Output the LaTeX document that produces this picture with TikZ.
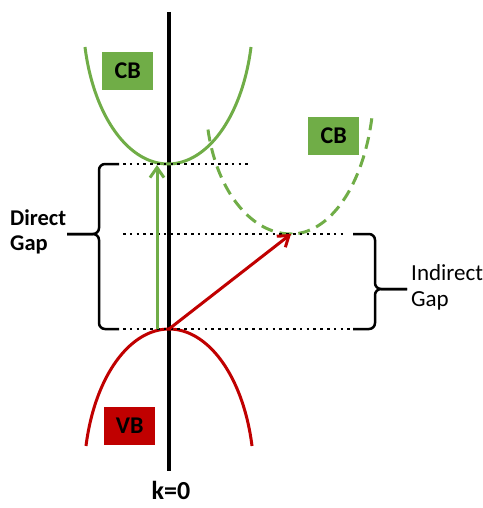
\documentclass[tikz,border=0pt]{standalone}
\usepackage{fontspec}
\setmainfont{Carlito}
\usetikzlibrary{arrows.meta}
\definecolor{cbgreen}{HTML}{70AD47}
\definecolor{vbred}{HTML}{C00000}
\begin{document}
\begin{tikzpicture}[x=1pt,y=-1pt,
  band/.style={line width=3pt},
  dots/.style={line width=2.5pt,dash pattern=on 2.6pt off 4.2pt},
  brace/.style={line width=2.5pt,rounded corners=6pt},
  lbl/.style={font=\fontsize{22.5}{25}\selectfont\bfseries,inner sep=0pt},
  boxlbl/.style={font=\fontsize{24}{25}\selectfont\bfseries,minimum width=51pt,minimum height=38pt,inner sep=0pt,anchor=north west}]
\useasboundingbox (0,0) rectangle (482,508);
% axis
\draw[line width=4.4pt] (169,12) -- (169,471);
% named points
\coordinate (cbbot) at (168,164);
\coordinate (vbtop) at (169,329);
\coordinate (cb2bot) at (291,234);
\coordinate (gstart) at (157,329);
\coordinate (gend) at (157,165);
% bands
\draw[band,cbgreen] plot[domain=-77.6:77.6,samples=81,smooth] ({168+85*sin(\x)},{164-149*(1-cos(\x))});
\draw[band,cbgreen,dash pattern=on 12pt off 7pt]
  plot[domain=-77.6:0,samples=41,smooth] ({291+85*sin(\x)},{234-133*(1-cos(\x))})
  -- plot[domain=0:77.4,samples=41,smooth] ({291+83*sin(\x)},{234-150*(1-cos(\x))});
\draw[band,vbred] plot[domain=-77.6:77.6,samples=81,smooth] ({169+85*sin(\x)},{329+149*(1-cos(\x))});
% dotted levels
\draw[dots] (123,164) -- (250,164);
\draw[dots] (123,234) -- (346,234);
\draw[dots] (123,329) -- (357,329);
% transitions
\draw[band,cbgreen,-{Straight Barb[length=10pt,width=14pt]}] (gstart) -- (gend);
\draw[band,vbred,-{Straight Barb[length=10pt,width=14pt]}] (vbtop) -- (cb2bot);
% braces
\draw[brace] (119,164) -- (99,164) -- (99,234) -- (67,234);
\draw[brace] (119,329) -- (99,329) -- (99,234) -- (67,234);
\draw[brace] (353,234) -- (375,234) -- (375,289) -- (407,289);
\draw[brace] (353,329) -- (375,329) -- (375,289) -- (407,289);
% labels
\node[boxlbl,fill=cbgreen] (cb1) at (102,52) {CB};
\node[boxlbl,fill=cbgreen] (cb2) at (308,117) {CB};
\node[boxlbl,fill=vbred] (vb) at (104,407) {VB};
\node[lbl,align=left,anchor=west] (dg) at (10,232) {Direct\\Gap};
\node[inner sep=0pt,align=left,anchor=west,font=\fontsize{23}{26}\selectfont] (ig) at (411,287) {Indirect\\Gap};
\node[inner sep=0pt,font=\fontsize{26}{28}\selectfont\bfseries,anchor=base] (k0) at (171,499) {k=0};
\end{tikzpicture}
\end{document}
